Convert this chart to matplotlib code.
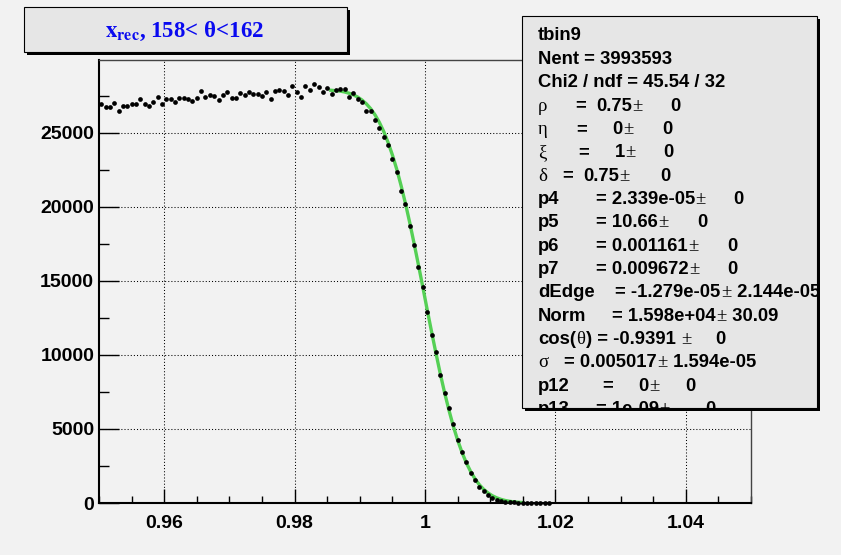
import matplotlib
matplotlib.use("Agg")
import numpy as np
import matplotlib.pyplot as plt
from matplotlib.patches import Rectangle
from matplotlib.ticker import MultipleLocator
from matplotlib.transforms import Bbox

plt.rcParams['mathtext.fontset'] = 'stix'

# ---------------- data ----------------
hist_lo = 0.95
bin_width = 0.1 / 150
counts = [
    26940, 26760, 26760, 27030, 26460, 26850, 26850, 26980, 26980, 27300,
    26980, 26800, 27100, 27430, 26980, 27300, 27300, 27120, 27340, 27390,
    27320, 27140, 27390, 27840, 27430, 27570, 27520, 27210, 27570, 27750,
    27340, 27370, 27680, 27570, 27750, 27640, 27640, 27480, 27740, 27310,
    27810, 27930, 27840, 27580, 28190, 27740, 27410, 28180, 27910, 28340,
    28130, 27750, 28070, 27640, 27930, 27970, 27970, 27410, 27710, 27310,
    27070, 26500, 26470, 25900, 25330, 24740, 24190, 23220, 22370, 21080,
    20200, 18720, 17460, 15970, 14560, 12930, 11370, 10220, 8650, 7460,
    6400, 5340, 4260, 3470, 2790, 2050, 1550, 1060, 830, 540,
    315, 200, 135, 90, 50, 35, 22, 14, 9, 6,
    4, 2, 1, 1,
]
# fitted curve (x, value)
fit_x = [0.9853, 0.98700, 0.98767, 0.98833, 0.98900, 0.98967, 0.99033, 0.99100,
         0.99167, 0.99233, 0.99300, 0.99367, 0.99433, 0.99500, 0.99567, 0.99633,
         0.99700, 0.99767, 0.99833, 0.99900, 0.99967, 1.00033, 1.00100, 1.00167,
         1.00233, 1.00300, 1.00367, 1.00433, 1.00500, 1.00567, 1.00633, 1.00700,
         1.00767, 1.00833, 1.00900, 1.00967, 1.01033, 1.01100, 1.01167, 1.01233,
         1.01300, 1.01367, 1.01433, 1.01500]
fit_y = [27897, 27828, 27769, 27688, 27577, 27427, 27228, 26970,
         26640, 26227, 25714, 25098, 24367, 23515, 22541, 21446,
         20238, 18919, 17526, 16070, 14577, 13073, 11585, 10140,
         8762, 7462, 6276, 5204, 4254, 3427, 2720, 2126,
         1633, 1238, 923, 678, 490, 348, 243, 167,
         113, 75, 49, 32]

x_ticks = [0.96, 0.98, 1.00, 1.02, 1.04]
x_tick_labels = ["0.96", "0.98", "1", "1.02", "1.04"]
y_ticks = [0, 5000, 10000, 15000, 20000, 25000]
y_tick_labels = ["0", "5000", "10000", "15000", "20000", "25000"]

title_main = r"$\mathbf{x}_{\mathbf{rec}}$, 158< θ<162"

# (x position in px or None = right after previous piece, text, b=bold sans / s=symbol)
stats_lines = [
    [(538, "tbin9", "b")],
    [(538, "Nent = 3993593", "b")],
    [(538, "Chi2 / ndf = 45.54 / 32", "b")],
    [(538, "ρ", "s"), (575, "=", "b"), (596, "0.75", "b"), (None, "±", "s"), (670, "0", "b")],
    [(538, "η", "s"), (576, "=", "b"), (612, "0", "b"), (None, "±", "s"), (662, "0", "b")],
    [(538, "ξ", "s"), (578, "=", "b"), (615, "1", "b"), (None, "±", "s"), (663, "0", "b")],
    [(538, "δ", "s"), (562, "=", "b"), (583, "0.75", "b"), (None, "±", "s"), (660, "0", "b")],
    [(538, "p4", "b"), (596, "= 2.339e-05", "b"), (None, "±", "s"), (733, "0", "b")],
    [(538, "p5", "b"), (596, "= 10.66", "b"), (None, "±", "s"), (697, "0", "b")],
    [(538, "p6", "b"), (596, "= 0.001161", "b"), (None, "±", "s"), (727, "0", "b")],
    [(538, "p7", "b"), (596, "= 0.009672", "b"), (None, "±", "s"), (727, "0", "b")],
    [(538, "dEdge", "b"), (615, "= -1.279e-05", "b"), (None, "±", "s"), (None, " 2.144e-05", "b")],
    [(538, "Norm", "b"), (612, "= 1.598e+04", "b"), (None, "±", "s"), (None, " 30.09", "b")],
    [(538, "cos(", "b"), (None, "θ", "s"), (None, ") = -0.9391 ", "b"), (None, "±", "s"), (715, "0", "b")],
    [(538, "σ", "s"), (564, "= 0.005017", "b"), (None, "±", "s"), (None, " 1.594e-05", "b")],
    [(538, "p12", "b"), (602, "=", "b"), (638, "0", "b"), (None, "±", "s"), (685, "0", "b")],
    [(538, "p13", "b"), (596, "= 1e-09", "b"), (None, "±", "s"), (705, "0", "b")],
]

# ---------------- figure ----------------
W, H = 841, 555
BG = "#f2f2f2"
fig = plt.figure(figsize=(W / 100, H / 100), dpi=100, facecolor=BG)
renderer = fig.canvas.get_renderer()


def fx(x):
    return x / W


def fy(y):
    return 1 - y / H


ax = fig.add_axes([fx(99), fy(503), (751 - 99) / W, (503 - 60) / H])
ax.set_facecolor(BG)

centers = hist_lo + bin_width * (np.arange(len(counts)) + 0.5)
ax.plot(fit_x, fit_y, color="#55d055", lw=2.4, zorder=3, solid_capstyle="butt")
ax.plot(centers, counts, "o", color="black", ms=3.4, mew=0, zorder=4, clip_on=False)

ax.set_xlim(0.95, 1.05)
ax.set_ylim(0, 29930)
ax.set_xticks(x_ticks, labels=x_tick_labels)
ax.set_yticks(y_ticks, labels=y_tick_labels)
ax.xaxis.set_minor_locator(MultipleLocator(0.005))
ax.yaxis.set_minor_locator(MultipleLocator(2500))

ax.tick_params(axis="x", which="major", direction="in", length=10, width=1, pad=9,
               top=False, labelsize=14, colors="black")
ax.tick_params(axis="x", which="minor", direction="in", length=5, width=1, top=False)
ax.tick_params(axis="y", which="major", direction="in", length=14.5, width=1, pad=3.5,
               right=False, labelsize=14)
ax.tick_params(axis="y", which="minor", direction="in", length=7, width=1, right=False)
for lab in ax.get_xticklabels() + ax.get_yticklabels():
    lab.set_fontfamily("Liberation Sans")
    lab.set_fontweight("bold")

ax.grid(which="major", color="black", linestyle=(0, (1, 2)), linewidth=0.75)
ax.set_axisbelow(True)
for s in ("left", "bottom"):
    ax.spines[s].set_linewidth(1.5)
    ax.spines[s].set_color("black")
for s in ("top", "right"):
    ax.spines[s].set_linewidth(1.0)
    ax.spines[s].set_color("#444444")


# ---------------- boxes ----------------
def box(x0, y0, x1, y1, off, z):
    fig.add_artist(Rectangle((fx(x0 + off), fy(y1 + off)), (x1 - x0) / W, (y1 - y0) / H,
                             transform=fig.transFigure, facecolor="black",
                             edgecolor="black", lw=0, zorder=z))
    fig.add_artist(Rectangle((fx(x0), fy(y1)), (x1 - x0) / W, (y1 - y0) / H,
                             transform=fig.transFigure, facecolor="#e6e6e6",
                             edgecolor="black", lw=0.8, zorder=z + 0.1))


box(24, 7, 347, 52, 3, 5)
fig.text(fx(184), fy(31), title_main, ha="center", va="center", color="#0a0af0",
         fontsize=16.5, fontfamily="Liberation Serif", fontweight="bold", zorder=6)

box(522, 16, 817, 408, 3, 5)
clip = Bbox([[0, fy(408)], [1, 1]])
clip_disp = fig.transFigure.transform_bbox(clip)
for k, pieces in enumerate(stats_lines):
    ybase = 40.5 + 23.35 * k
    prev_right = 538
    for xp, txt, kind in pieces:
        if xp is None:
            xp = prev_right + 0.5
        if kind == "b":
            t = fig.text(fx(xp), fy(ybase), txt, ha="left", va="baseline", fontsize=13.3,
                         fontfamily="Liberation Sans", fontweight="bold", color="black",
                         zorder=7)
        else:
            t = fig.text(fx(xp), fy(ybase), txt, ha="left", va="baseline", fontsize=13.5,
                         fontfamily="Liberation Serif", color="black", zorder=7)
        t.set_clip_box(clip_disp)
        t.set_clip_on(True)
        prev_right = t.get_window_extent(renderer).x1

fig.savefig("out.png", dpi=100, facecolor=BG)
